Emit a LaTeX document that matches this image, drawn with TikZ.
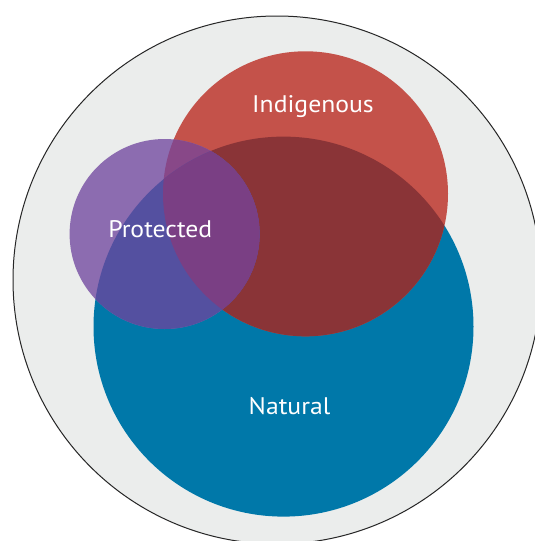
\documentclass[tikz,border=0pt]{standalone}
\usepackage{fontspec}
\setmainfont{PT Sans}[FakeStretch=1.07]
\definecolor{bggray}{HTML}{EBEDEC}
\definecolor{indred}{HTML}{C4524A}
\definecolor{natblue}{HTML}{0078A9}
\definecolor{protpurple}{HTML}{8C6CB0}
\definecolor{redblue}{HTML}{8A3437}
\definecolor{purpleblue}{HTML}{5450A0}
\definecolor{purplered}{HTML}{884888}
\definecolor{allthree}{HTML}{7A3F84}
\tikzset{
  lbl/.style={text=white, font=\fontsize{24}{28}\selectfont, anchor=base, inner sep=0pt},
}
\def\redc{(305.5,193.8) circle [radius=142.5pt]}
\def\bluec{(283.5,326.6) circle [radius=190pt]}
\def\purc{(164.6,234) circle [radius=95pt]}
\begin{document}
\begin{tikzpicture}[x=1pt,y=-1pt]
\useasboundingbox (0,0) rectangle (535,541);
\clip (0,0) rectangle (535,541);
\fill[white] (0,0) rectangle (535,541);
\draw[fill=bggray, draw=black!85, line width=1pt] (277,280) circle [radius=264pt];
% base circles
\fill[natblue] \bluec;
\fill[indred] \redc;
\fill[protpurple] \purc;
% red and blue
\begin{scope}
  \clip \redc;
  \fill[redblue] \bluec;
\end{scope}
% purple and red
\begin{scope}
  \clip \purc;
  \fill[purplered] \redc;
\end{scope}
% purple and blue
\begin{scope}
  \clip \purc;
  \fill[purpleblue] \bluec;
\end{scope}
% all three
\begin{scope}
  \clip \purc;
  \clip \redc;
  \fill[allthree] \bluec;
\end{scope}
\node[lbl] (indigenous) at (313,112.5) {Indigenous};
\node[lbl] (protected) at (160.3,237.5) {Protected};
\node[lbl] (natural) at (289.5,414.5) {Natural};
\end{tikzpicture}
\end{document}
